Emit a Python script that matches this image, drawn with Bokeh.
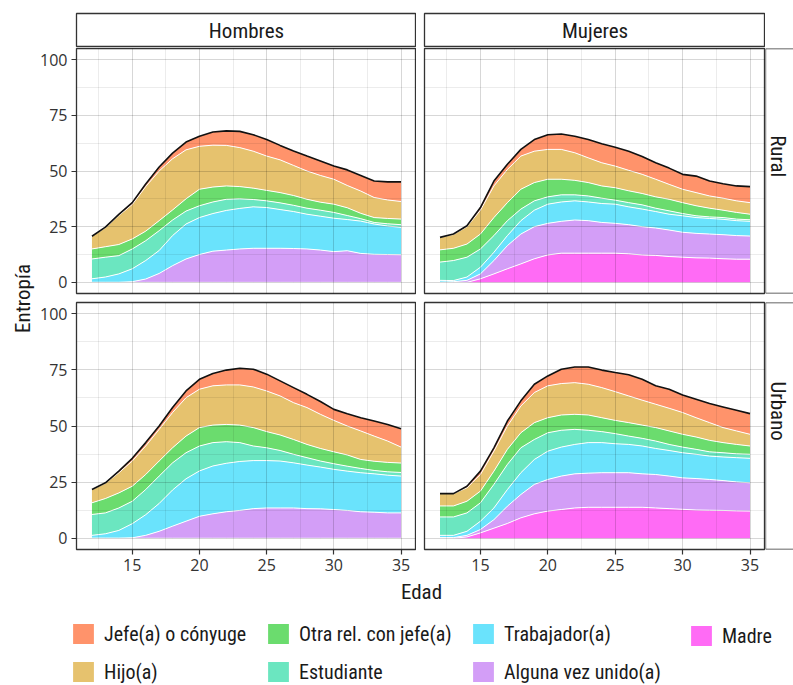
import math
from bokeh.plotting import figure
from bokeh.models import (Range1d, SingleIntervalTicker, Grid, ColumnDataSource,
                          Label, Span, Legend, LegendItem)
from bokeh.layouts import row, column
from bokeh.transform import stack
from bokeh.embed import file_html
from bokeh.resources import INLINE

# ---------------- data ----------------
ages = list(range(12, 36))

layer_names = ["Madre", "Alguna vez unido(a)", "Trabajador(a)", "Estudiante",
               "Otra rel. con jefe(a)", "Hijo(a)", "Jefe(a) o cónyuge"]
layer_keys = ["madre", "alguna", "trabajador", "estudiante", "otra", "hijo", "jefe"]
layer_colors = ["#FF6BF5", "#D39EF7", "#6AE3FC", "#6BE6C0", "#6BDC6E", "#E6C26E", "#FF936B"]

# Hombres - Rural
hr_madre = [0] * 24
hr_alguna = [0, 0, 0, 0.3, 1.5, 4, 7.5, 10.5, 12.5, 14, 14.5, 15, 15.3, 15.3, 15.3, 15.2, 15, 14.5, 13.8, 14.2, 13, 12.6, 12.5, 12.4]
hr_trabajador = [1.6, 2.4, 3.8, 5.8, 8.3, 10.3, 13.5, 15.7, 16.6, 16.9, 17.8, 18.2, 18.6, 18.3, 17.4, 16.6, 15.6, 15.2, 15, 14, 14.5, 13.6, 12.8, 12.3]
hr_estudiante = [8.9, 8.9, 8.2, 8.9, 8.9, 8.9, 7, 5.8, 5.3, 5.2, 5, 4.3, 3.3, 3, 3, 2.8, 2.7, 2.7, 2.6, 1.8, 1.1, 0.7, 1, 1.2]
hr_otra = [4.5, 4.7, 5, 4.5, 4.3, 4.5, 4.5, 5.5, 7.4, 6.7, 6, 5.5, 5.1, 4.7, 4.6, 4.4, 4, 3.6, 3.7, 3.5, 2.4, 2.2, 2.4, 2.5]
hr_hijo = [5.7, 8.5, 13, 15.5, 20, 22.3, 23, 22, 19.3, 18.8, 18.2, 17.5, 16.6, 15.4, 14.7, 13.5, 12.7, 12, 11.2, 10, 10, 9, 8.3, 7.9]
hr_jefe = [0, 0.3, 0.5, 0.8, 1.2, 1.8, 2.5, 3.5, 4.5, 5.9, 6.5, 7.3, 7.4, 7.4, 6.5, 6.5, 6.7, 6.5, 5.9, 7, 7, 7.4, 8.1, 8.8]

# Mujeres - Rural
mr_madre = [0, 0, 0, 1.6, 3.8, 6.1, 8.3, 10.6, 12.3, 13.1, 13.1, 13.1, 13.1, 13.1, 12.8, 12.3, 12.1, 11.6, 11.3, 11, 10.9, 10.6, 10.4, 10.4]
mr_alguna = [0, 0.3, 0.9, 2.2, 6, 10.4, 13.4, 14.4, 14.2, 14.3, 14.9, 14.6, 13.8, 13.4, 13.1, 12.7, 12.3, 11.9, 11.2, 11, 10.8, 10.8, 10.6, 10.4]
mr_trabajador = [0.9, 0.5, 1.5, 3, 3.7, 4.5, 6, 7.4, 8.6, 8.7, 8.6, 8.4, 8.5, 8.6, 8, 7.9, 7.4, 7.1, 7.4, 7.1, 7, 6.9, 6.7, 6.6]
mr_estudiante = [8.2, 9, 8.9, 8.2, 7.5, 6.7, 5.2, 4.2, 3.3, 3.2, 2.7, 2.7, 2.4, 1.8, 1.9, 1.9, 1.5, 1.5, 1, 0.8, 0.7, 0.8, 0.7, 0.7]
mr_otra = [5.5, 5.5, 5.9, 6.7, 8.1, 8.1, 8.9, 8.2, 7.9, 7, 6.5, 6, 5.5, 5.6, 5.3, 5.1, 5.1, 5.2, 4.9, 4.5, 3.9, 3.3, 3, 2.5]
mr_hijo = [5.6, 6.2, 7.8, 10.7, 14.2, 14.9, 14.9, 14.1, 13.4, 13.4, 12.4, 11.1, 10.4, 9.7, 9.2, 8.6, 7.9, 6.7, 6, 5.9, 5.5, 5.4, 5.2, 5.2]
mr_jefe = [0, 0.2, 0.4, 1.2, 2.2, 2.3, 3, 5.2, 6.6, 6.9, 7.4, 8.2, 8.5, 8.5, 8.6, 8, 7.4, 7.3, 6.7, 7.4, 6.7, 6.5, 6.7, 7.2]

# Hombres - Urbano
hu_madre = [0] * 24
hu_alguna = [0, 0, 0, 0.2, 1.3, 3.1, 5.4, 7.6, 9.8, 10.9, 11.8, 12.4, 13.2, 13.5, 13.5, 13.5, 13.2, 13.1, 12.8, 12.4, 11.8, 11.6, 11.3, 11.3]
hu_trabajador = [1.3, 2, 3.5, 6.3, 9.2, 12.4, 16.1, 18.9, 20.2, 21.3, 21.6, 21.8, 21.4, 21.1, 20.9, 20.1, 19.4, 18.6, 17.9, 17.5, 17.4, 17.1, 16.8, 16.4]
hu_estudiante = [9.3, 9.3, 10, 10, 11.2, 12.2, 12.1, 11.6, 11.1, 10.4, 9.6, 8.4, 6.5, 5.7, 4.7, 3.8, 3.3, 2.7, 2.5, 2.2, 1.9, 1.5, 1.5, 1.6]
hu_otra = [5.2, 6.4, 6.7, 6.7, 6.7, 6.7, 6.7, 7.4, 8.2, 7.8, 7.7, 7.8, 8.2, 7.2, 6.9, 6.6, 5.9, 5.6, 5.3, 5, 4, 4.1, 4.2, 4.2]
hu_hijo = [5.9, 6.8, 9, 11.2, 12.7, 14.1, 15.7, 17.1, 17.1, 17.5, 17.6, 17.9, 18.1, 18.1, 17.4, 16.4, 16.4, 15.2, 14, 12.9, 12.7, 11.2, 9.5, 7.1]
hu_jefe = [0, 0.2, 0.7, 1.2, 1.5, 1.5, 2.2, 3, 4.4, 5.5, 6.6, 7.4, 7.9, 7.5, 6.7, 6.7, 5.9, 5.7, 4.9, 5.5, 5.9, 6.7, 7.4, 8.2]

# Mujeres - Urbano
mu_madre = [0, 0, 0.6, 2.4, 4.5, 6.6, 9.1, 10.9, 12.1, 12.8, 13.5, 13.8, 13.8, 13.8, 13.8, 13.8, 13.5, 13.2, 12.9, 12.6, 12.5, 12.4, 12.2, 12.1]
mu_alguna = [0.3, 0.3, 0.7, 1.5, 3.8, 7.7, 10.4, 13.1, 14.1, 14.9, 15.2, 15.2, 15.4, 15.4, 15.4, 14.9, 14.9, 14.5, 14, 14, 13.7, 13.3, 12.9, 12.6]
mu_trabajador = [1, 1, 1.8, 3.7, 5.2, 7.4, 9.7, 11.1, 12.6, 12.9, 13.1, 13.6, 13.4, 12.9, 12.6, 12.4, 11.6, 11.4, 11.2, 10.8, 10.4, 10.5, 10.8, 10.9]
mu_estudiante = [8.2, 8.2, 8.2, 8.2, 10.5, 11.2, 11.1, 8.9, 8.2, 7.5, 6.7, 5.5, 4.9, 4.5, 3.7, 3.4, 3.3, 2.7, 2.5, 2.2, 1.9, 1.9, 1.7, 1.8]
mu_otra = [4.9, 4.9, 5.2, 5.2, 5.9, 6.7, 6.7, 7.5, 6.7, 6.8, 6.7, 6.8, 6.2, 5.9, 6, 5.9, 6, 6, 5.7, 5.5, 5.1, 4.5, 4.2, 3.7]
mu_hijo = [5.5, 5.5, 6, 7.4, 8.9, 10.4, 11.9, 13.4, 14.2, 14, 14.1, 13.7, 13.4, 12.8, 11.9, 11.1, 10.4, 10.1, 9.7, 8.6, 7.9, 6.7, 6, 5.2]
mu_jefe = [0, 0, 0.7, 1.5, 1.5, 2.2, 2.3, 3.7, 4.4, 6.4, 7, 7.7, 7.8, 8.5, 9.4, 9.3, 8.2, 8.5, 7.8, 8.2, 8.5, 9.2, 9.2, 9.2]

x_ticks_interval = 5
y_ticks_interval = 25

# ---------------- style ----------------
COND = "Roboto Condensed, DejaVu Sans Condensed, Liberation Sans Narrow, Roboto, sans-serif"
TICKF = "Open Sans"
BORDER = "#333333"


def strip_grids(p):
    p.center = [r for r in p.center if not isinstance(r, Grid)]


def base_fig(width, height, xr, yr, mb):
    p = figure(width=width, height=height, x_range=xr, y_range=yr,
               output_backend="svg", toolbar_location=None,
               x_axis_location=None, y_axis_location=None,
               min_border_left=mb[0], min_border_right=mb[1],
               min_border_top=mb[2], min_border_bottom=mb[3])
    strip_grids(p)
    return p


def make_source(cols):
    d = {"age": ages}
    for k, v in zip(layer_keys, cols):
        d[k] = v
    return ColumnDataSource(d)


def add_grids(p):
    xt = SingleIntervalTicker(interval=x_ticks_interval, num_minor_ticks=2)
    yt = SingleIntervalTicker(interval=y_ticks_interval, num_minor_ticks=2)
    for dim, t in ((0, xt), (1, yt)):
        g = Grid(dimension=dim, ticker=t, level="guide",
                 grid_line_color="black", grid_line_alpha=0.085, grid_line_width=1,
                 minor_grid_line_color="black", minor_grid_line_alpha=0.075,
                 minor_grid_line_width=1)
        p.add_layout(g)


def make_panel(cols, width, height, mb_left, mb_top, mb_bottom, show_x, show_y):
    p = figure(width=width, height=height,
               x_range=Range1d(10.85, 36.15), y_range=Range1d(-5, 105),
               output_backend="svg", toolbar_location=None,
               x_axis_location="below" if show_x else None,
               y_axis_location="left" if show_y else None,
               min_border_left=mb_left, min_border_right=0,
               min_border_top=mb_top, min_border_bottom=mb_bottom)
    strip_grids(p)
    p.background_fill_color = "white"
    p.border_fill_color = "white"
    p.outline_line_color = BORDER
    p.outline_line_width = 1.3
    add_grids(p)
    for ax in p.xaxis:
        ax.ticker = SingleIntervalTicker(interval=x_ticks_interval, num_minor_ticks=2)
    for ax in p.yaxis:
        ax.ticker = SingleIntervalTicker(interval=y_ticks_interval, num_minor_ticks=2)
    for ax in p.xaxis + p.yaxis:
        ax.axis_line_color = None
        ax.minor_tick_line_color = None
        ax.major_tick_line_color = BORDER
        ax.major_tick_line_width = 1.2
        ax.major_tick_out = 5
        ax.major_tick_in = 0
        ax.major_label_standoff = 4
        ax.major_label_text_font = TICKF
        ax.major_label_text_font_size = "16px"
        ax.major_label_text_color = "#333333"

    src = make_source(cols)
    p.varea_stack(stackers=layer_keys, x="age", source=src,
                  fill_color=layer_colors, fill_alpha=1.0)
    for i in range(len(layer_keys) - 1):
        p.line(x="age", y=stack(*layer_keys[:i + 1]), source=src,
               line_color="white", line_width=1)
    p.line(x="age", y=stack(*layer_keys), source=src,
           line_color="#111111", line_width=1.6)
    return p


def make_strip_top(text, width, mb_left):
    p = base_fig(width, 47, Range1d(0, 1), Range1d(0, 1), (mb_left, 0, 13, 0))
    p.outline_line_color = BORDER
    p.outline_line_width = 1.3
    p.add_layout(Label(x=0.5, y=0.5, text=text, text_align="center",
                       text_baseline="middle", text_font=COND,
                       text_font_size="21px", text_color="#1A1A1A"))
    return p


def make_strip_right(text, height, mb_top, mb_bottom, ypos):
    p = base_fig(28, height, Range1d(0, 1), Range1d(0, 1), (0, 0, mb_top, mb_bottom))
    p.outline_line_color = None
    for loc in (0, 1):
        p.add_layout(Span(location=loc, dimension="width", line_color=BORDER, line_width=1.3))
    p.add_layout(Span(location=0, dimension="height", line_color=BORDER, line_width=1.3))
    p.add_layout(Label(x=0.43, y=ypos, text=text, text_align="center",
                       text_baseline="middle", angle=-math.pi / 2,
                       text_font=COND, text_font_size="21px", text_color="#1A1A1A"))
    return p


# ---------------- panels ----------------
hr = [hr_madre, hr_alguna, hr_trabajador, hr_estudiante, hr_otra, hr_hijo, hr_jefe]
mr = [mr_madre, mr_alguna, mr_trabajador, mr_estudiante, mr_otra, mr_hijo, mr_jefe]
hu = [hu_madre, hu_alguna, hu_trabajador, hu_estudiante, hu_otra, hu_hijo, hu_jefe]
mu = [mu_madre, mu_alguna, mu_trabajador, mu_estudiante, mu_otra, mu_hijo, mu_jefe]

LEFTW = 36
p_tl = make_panel(hr, 416 - LEFTW, 250, 76 - LEFTW, 1, 4, False, True)
p_tr = make_panel(mr, 349, 250, 8, 1, 4, False, False)
p_bl = make_panel(hu, 416 - LEFTW, 282, 76 - LEFTW, 5, 30, True, True)
p_br = make_panel(mu, 349, 282, 8, 5, 30, True, False)

s_h = make_strip_top("Hombres", 416 - LEFTW, 76 - LEFTW)
s_m = make_strip_top("Mujeres", 349, 8)
s_r = make_strip_right("Rural", 250, 1, 4, 0.56)
s_u = make_strip_right("Urbano", 282, 5, 30, 0.56)

# left label column
p_left = base_fig(LEFTW, 579, Range1d(0, LEFTW), Range1d(0, 579), (0, 0, 0, 0))
p_left.outline_line_color = None
p_left.add_layout(Label(x=22, y=281, text="Entropía", text_align="center",
                        text_baseline="middle", angle=math.pi / 2,
                        text_font=COND, text_font_size="21px", text_color="#1A1A1A"))

# bottom: x-axis title + legend
p_leg = base_fig(793, 106, Range1d(0, 793), Range1d(0, 106), (0, 0, 0, 0))
p_leg.outline_line_color = None
p_leg.add_layout(Label(x=421, y=94, text="Edad", text_align="center",
                       text_baseline="middle", text_font=COND,
                       text_font_size="21px", text_color="#1A1A1A"))

dummy = {}
for k, c in zip(layer_keys, layer_colors):
    dummy[k] = p_leg.varea(x=[0], y1=[0], y2=[0], fill_color=c, fill_alpha=1.0)

name_of = dict(zip(layer_keys, layer_names))
legend_cols = [(["jefe", "hijo"], (70, 1)),
               (["otra", "estudiante"], (265, 1)),
               (["trabajador", "alguna"], (470, 1)),
               (["madre"], (688, 37))]
for keys, loc in legend_cols:
    leg = Legend(items=[LegendItem(label=name_of[k], renderers=[dummy[k]]) for k in keys],
                 location=loc, orientation="vertical", spacing=13, padding=0, margin=0,
                 glyph_width=26, glyph_height=25, label_standoff=8, label_height=25,
                 label_text_font=COND, label_text_font_size="20px",
                 label_text_color="#1A1A1A", label_text_baseline="middle",
                 border_line_color=None, background_fill_alpha=0)
    p_leg.add_layout(leg)

main = column(row(s_h, s_m),
              row(p_tl, p_tr, s_r),
              row(p_bl, p_br, s_u))
layout = column(row(p_left, main), p_leg)

open("out.html", "w").write(file_html(layout, INLINE))
